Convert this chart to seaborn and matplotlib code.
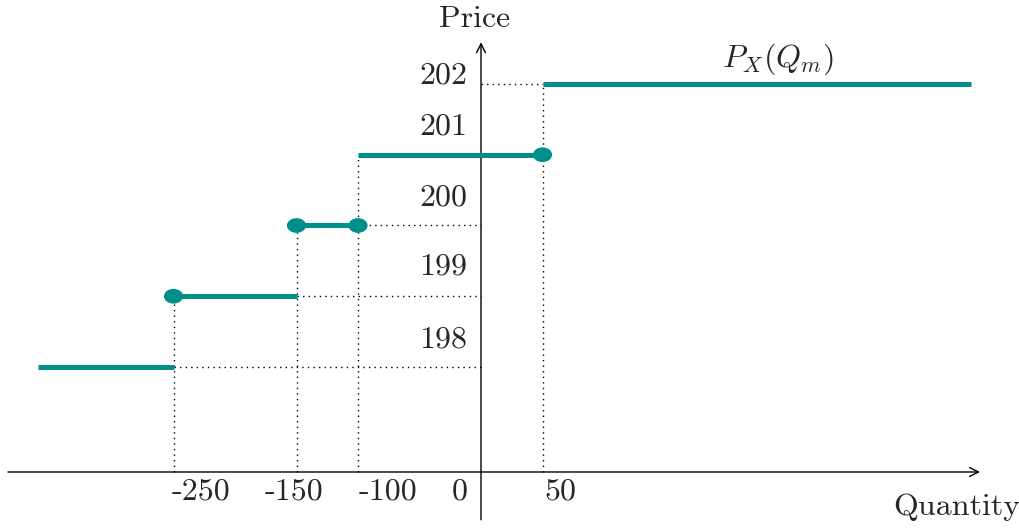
import numpy as np
import pandas as pd
import matplotlib
matplotlib.use("Agg")
import matplotlib.pyplot as plt
from matplotlib.path import Path
from matplotlib.transforms import Affine2D
import seaborn as sns

# Step function of the price as a function of quantity
seg_start = [-360, -250, -150, -100, 50]
seg_end = [-250, -150, -100, 50, 398]
seg_price = [198, 199, 200, 201, 202]

# Closed endpoints of the steps
dot_q = [-250, -150, -100, 50]
dot_p = [199, 200, 200, 201]

# Breakpoints and the level reached just after each one
break_q = [-250, -150, -100, 50]
break_top = [199, 200, 201, 202]

xtick_values = [-250, -150, -100, 0, 50]
xtick_labels = ["-250", "-150", "-100", "0", "50"]
ytick_values = [198, 199, 200, 201, 202]
ytick_labels = ["198", "199", "200", "201", "202"]

teal = "#008f8a"

sns.set_style("white")
plt.rcParams["font.family"] = ["cmr10", "DejaVu Serif"]
plt.rcParams["mathtext.fontset"] = "cm"
plt.rcParams["axes.formatter.use_mathtext"] = True

fig = plt.figure(figsize=(10.19, 5.31), dpi=100)
ax = fig.add_axes([0, 0, 1, 1])
ax.set_xlim(-391.06, 437.4)
ax.set_ylim(195.682, 203.187)
ax.axis("off")

x_axis_y = 196.516

# Coordinate axes with arrow heads
arrow = dict(arrowstyle="->", lw=1.0, color="black", shrinkA=0, shrinkB=0,
             mutation_scale=16)
ax.annotate("", xy=(405.7, x_axis_y), xytext=(-384.6, x_axis_y), arrowprops=arrow)
ax.annotate("", xy=(0, 202.59), xytext=(0, 195.84), arrowprops=arrow)

# Dotted guide lines
dot_style = dict(color="black", lw=1.0, linestyle=(0, (1, 3)), zorder=1)
for q, top in zip(break_q, break_top):
    ax.plot([q, q], [x_axis_y, top], **dot_style)
for q0, q1, p in [(-250, 0, 198), (-150, 0, 199), (-100, 0, 200), (0, 50, 202)]:
    ax.plot([q0, q1], [p, p], **dot_style)

# Step segments
rows = []
for i, (a, b, p) in enumerate(zip(seg_start, seg_end, seg_price)):
    rows.append({"seg": i, "q": a, "p": p})
    rows.append({"seg": i, "q": b, "p": p})
segments = pd.DataFrame(rows)
sns.lineplot(data=segments, x="q", y="p", units="seg", estimator=None,
             color=teal, lw=3.6, ax=ax, legend=False, zorder=3,
             solid_capstyle="butt")

# Filled endpoint dots (slightly wide ellipses)
ellipse = Path.unit_circle().transformed(Affine2D().scale(1.3, 1.0))
dots = pd.DataFrame({"q": dot_q, "p": dot_p})
sns.scatterplot(data=dots, x="q", y="p", marker=ellipse, s=190, color=teal,
                edgecolor="none", ax=ax, legend=False, zorder=4)

fs = 23
px_x = 1.23      # pixels per unit of quantity
px_y = 70.75     # pixels per unit of price

# Horizontal tick labels: pixel offsets of each label centre from its value
xtick_dx = [27.5, -2.5, 29.5, -21.5, 17.5]
for v, lab, dx in zip(xtick_values, xtick_labels, xtick_dx):
    ax.text(v + dx / px_x, x_axis_y - 20 / px_y, lab, fontsize=fs,
            ha="center", va="center")

# Vertical tick labels, set above each level to the left of the axis
ytick_dy = [27, 29, 28, 28, 8]
for v, lab, dy in zip(ytick_values, ytick_labels, ytick_dy):
    ax.text(-37.5 / px_x, v + dy / px_y, lab, fontsize=fs,
            ha="center", va="center")

ax.text(-6 / px_x, 198 + (367 - 19) / px_y, "Price", fontsize=fs,
        ha="center", va="center")
ax.text((957 - 481) / px_x, 198 - (507 - 367) / px_y, "Quantity", fontsize=fs,
        ha="center", va="center")
ax.text((778 - 481) / px_x, 198 + (367 - 59) / px_y, r"$P_X(Q_m)$", fontsize=fs,
        ha="center", va="center")

fig.savefig("out.png", dpi=100)
